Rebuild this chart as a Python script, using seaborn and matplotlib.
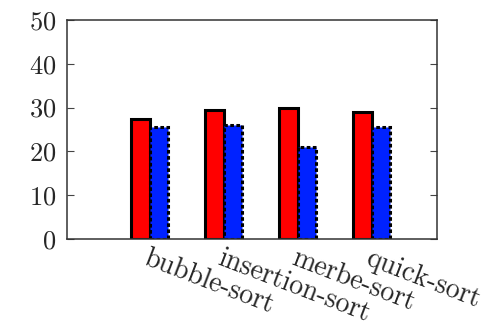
import pandas as pd
import matplotlib
matplotlib.use('Agg')
import matplotlib.pyplot as plt
import seaborn as sns

algorithms = ['bubble-sort', 'insertion-sort', 'merbe-sort', 'quick-sort']
series_a = [27.3, 29.4, 29.8, 28.9]
series_b = [25.6, 26.0, 21.1, 25.5]

df = pd.DataFrame({
    'algo': algorithms * 2,
    'time': series_a + series_b,
    'series': ['a'] * 4 + ['b'] * 4,
})

sns.set_style('white')
plt.rcParams['font.family'] = ['cmr10', 'DejaVu Serif']
plt.rcParams['axes.formatter.use_mathtext'] = True

fig = plt.figure(figsize=(4.91, 3.27), dpi=100)
ax = fig.add_axes([67 / 491, 1 - 239 / 327, 370 / 491, 219 / 327])
sns.barplot(data=df, x='algo', y='time', hue='series', palette=['#ff0000', '#0022ff'],
            saturation=1, width=0.5, dodge=True, ax=ax, legend=False,
            edgecolor='black', linewidth=2.2)

n = len(algorithms)
for i, p in enumerate(ax.patches[:2 * n]):
    if i >= n:
        p.set_linestyle((0, (1.2, 0.8)))

ax.set_xlim(-1.12, 3.88)
ax.set_ylim(0, 50)
ax.set_yticks([0, 10, 20, 30, 40, 50])
ax.set_xlabel('')
ax.set_ylabel('')
for s in ax.spines.values():
    s.set_color('#333333')
    s.set_linewidth(1.1)
ax.tick_params(axis='y', direction='in', left=True, right=True, length=5, labelsize=19,
               color='#444444', pad=8)
ax.tick_params(axis='x', bottom=False, labelsize=20, pad=1)
plt.setp(ax.get_xticklabels(), rotation=-21, ha='left', va='top', rotation_mode='anchor')
for lbl in ax.get_xticklabels():
    lbl.set_x(lbl.get_position()[0] + 0.03)

fig.savefig('out.png', dpi=100)
